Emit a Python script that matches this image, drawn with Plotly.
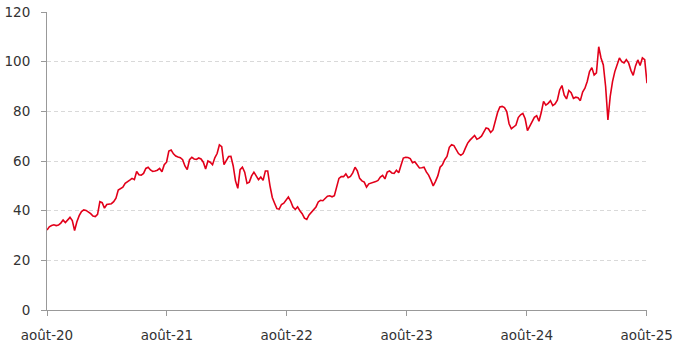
import pandas as pd
import plotly.graph_objects as go

# Weekly readings of the index, starting 1 Aug 2020
start_date = "2020-08-01"
values = [
    32.2, 33.5, 34.0, 34.3, 34.0, 34.2, 35.0, 36.2, 35.2, 36.3,
    37.3, 36.0, 32.0, 35.5, 38.0, 39.6, 40.3, 40.1, 39.5, 38.8,
    37.8, 37.6, 38.5, 43.6, 43.2, 41.0, 42.5, 42.5, 42.8, 43.6,
    45.0, 48.3, 48.9, 49.5, 51.0, 51.5, 52.3, 53.0, 52.5, 55.8,
    54.5, 54.3, 55.0, 57.0, 57.5, 56.4, 55.8, 56.0, 56.3, 57.0,
    55.7, 58.5, 59.5, 64.0, 64.4, 62.9, 62.0, 61.6, 61.3, 60.5,
    58.0, 56.5, 60.5, 61.5, 60.8, 60.6, 61.2, 60.8, 59.5, 56.8,
    60.0, 59.5, 58.5, 61.3, 63.0, 66.5, 65.8, 58.5, 60.0, 61.8,
    61.9, 58.0, 52.0, 49.0, 56.5, 57.5, 55.5, 51.0, 51.5, 54.0,
    55.5, 54.0, 52.5, 53.5, 52.2, 56.0, 56.0, 50.0, 45.3, 43.0,
    40.8, 40.6, 42.5, 43.0, 44.3, 45.5, 43.8, 41.5, 40.5, 41.5,
    40.0, 38.8, 37.0, 36.5, 38.3, 39.5, 40.5, 41.5, 43.5, 44.2,
    44.0, 45.0, 45.8, 46.0, 45.6, 46.0, 49.0, 53.0, 53.7, 53.7,
    54.8, 53.3, 53.8, 55.2, 57.5, 56.0, 53.0, 52.0, 51.5, 49.5,
    50.8, 51.0, 51.3, 51.7, 52.2, 53.5, 54.2, 52.8, 55.5, 56.0,
    55.2, 55.0, 56.3, 55.3, 58.3, 61.2, 61.5, 61.4, 61.0, 59.3,
    59.7, 58.2, 57.2, 57.3, 57.5, 55.6, 54.3, 52.3, 50.0, 51.8,
    54.0, 57.5, 58.5, 60.5, 61.8, 65.5, 66.6, 66.2, 64.8, 63.0,
    62.3, 63.0, 65.2, 67.2, 68.4, 69.2, 70.3, 68.8, 69.2, 70.0,
    71.6, 73.3, 73.0, 71.5, 72.5, 76.0, 79.5, 81.8, 82.0, 81.5,
    79.9, 75.0, 73.0, 73.7, 74.5, 77.5, 78.6, 79.2, 77.0, 72.2,
    74.2, 76.0, 77.6, 78.2, 76.0, 79.5, 84.0, 82.5, 83.2, 84.3,
    82.3, 83.0, 84.5, 88.6, 90.4, 86.5, 85.0, 88.4, 87.5, 85.2,
    85.7, 85.5, 84.3, 87.8, 89.3, 92.0, 96.0, 97.6, 94.6, 95.5,
    106.0, 101.5, 98.7, 90.0, 76.5, 86.0, 92.0, 96.0, 98.5, 101.5,
    100.0, 99.5, 100.8, 99.5, 96.5, 94.5, 98.3, 100.7, 98.5, 101.5,
    100.8, 91.3,
]
dates = pd.date_range(start_date, periods=len(values), freq="7D")

tick_dates = ["2020-08-01", "2021-08-01", "2022-08-01", "2023-08-01", "2024-08-01", "2025-08-01"]
tick_labels = ["août-20", "août-21", "août-22", "août-23", "août-24", "août-25"]
y_ticks = [0, 20, 40, 60, 80, 100, 120]

fig = go.Figure()
fig.add_trace(go.Scatter(
    x=dates, y=values, mode="lines",
    line=dict(color="#E2001A", width=1.6),
    showlegend=False,
))

font = dict(family="DejaVu Sans, Verdana, sans-serif", size=13.5, color="#333333")

fig.update_layout(
    width=681, height=353,
    margin=dict(l=47, r=34, t=12, b=43, autoexpand=False),
    paper_bgcolor="white", plot_bgcolor="white",
    font=font,
)
fig.update_xaxes(
    range=["2020-08-01", "2025-08-02"],
    tickvals=tick_dates, ticktext=tick_labels,
    showgrid=False, showline=True, linecolor="#999999", linewidth=1,
    ticks="outside", ticklen=5, tickcolor="#999999",
    tickfont=font, zeroline=False, automargin=False, ticklabelstandoff=8,
)
fig.update_yaxes(
    range=[0, 120], tickvals=y_ticks,
    showgrid=True, gridcolor="#d9d9d9", griddash="4px,3px", gridwidth=1,
    showline=True, linecolor="#999999", linewidth=1,
    ticks="outside", ticklen=5, tickcolor="#999999",
    tickfont=font, zeroline=False, ticklabelstandoff=8, automargin=False,
)

fig.write_html(
    "out.html",
    config={"displayModeBar": False},
    post_script="document.body.style.margin='0';document.body.style.overflow='hidden';",
)
